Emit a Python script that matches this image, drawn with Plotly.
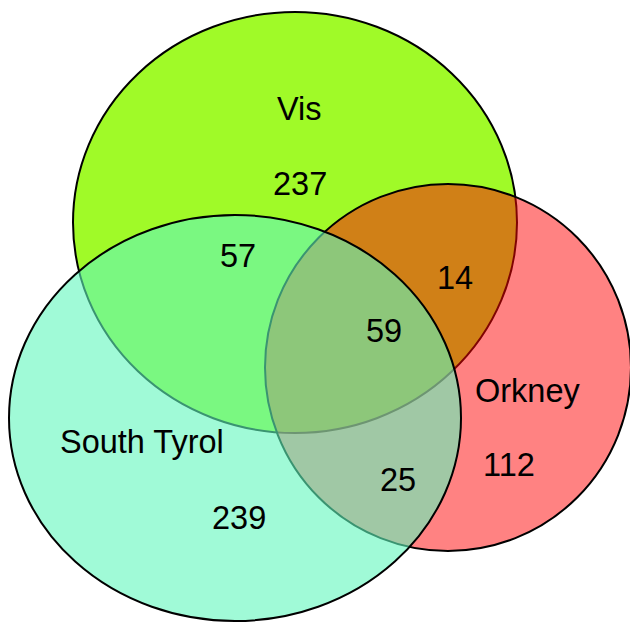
import plotly.graph_objects as go

# ---- data ----
set_names = ["Vis", "Orkney", "South Tyrol"]
region_labels = ["Vis only", "Vis & South Tyrol", "Vis & Orkney", "All three",
                 "Orkney only", "Orkney & South Tyrol", "South Tyrol only"]
region_values = [237, 57, 14, 59, 112, 25, 239]

# ---- layout geometry (pixel space of the 630x622 canvas, y down) ----
ellipses = {
    "Vis": dict(cx=295, cy=222.5, rx=222, ry=210.5, fill="rgb(160,250,40)"),
    "Orkney": dict(cx=448, cy=367.5, rx=183, ry=183.5, fill="rgba(255,5,5,0.5)"),
    "South Tyrol": dict(cx=235, cy=418, rx=226, ry=203, fill="rgba(96,247,188,0.6)"),
}
set_label_pos = {"Vis": (299, 109), "Orkney": (528, 391), "South Tyrol": (142, 442)}
region_pos = [(300, 184), (238, 256), (455, 278), (384, 331), (509, 465), (398, 480), (239, 518)]

fig = go.Figure()
shapes = []
for name in set_names:
    e = ellipses[name]
    shapes.append(dict(
        type="circle", xref="x", yref="y",
        x0=e["cx"] - e["rx"], x1=e["cx"] + e["rx"],
        y0=e["cy"] - e["ry"], y1=e["cy"] + e["ry"],
        fillcolor=e["fill"], line=dict(color="black", width=2), layer="above",
    ))

annotations = []
font = dict(family="Liberation Sans, Arial, sans-serif", size=32.5, color="black")
for name in set_names:
    x, y = set_label_pos[name]
    annotations.append(dict(x=x, y=y, xref="x", yref="y", text=name, showarrow=False,
                            font=font, xanchor="center", yanchor="middle"))
for lab, val, (x, y) in zip(region_labels, region_values, region_pos):
    annotations.append(dict(x=x, y=y, xref="x", yref="y", text=str(val), showarrow=False,
                            font=font, xanchor="center", yanchor="middle"))

fig.update_layout(
    width=630, height=622,
    margin=dict(l=0, r=0, t=0, b=0),
    paper_bgcolor="white", plot_bgcolor="white",
    shapes=shapes, annotations=annotations,
    xaxis=dict(range=[0, 630], visible=False, fixedrange=True),
    yaxis=dict(range=[622, 0], visible=False, fixedrange=True),
    showlegend=False,
)
fig.write_html(
    "out.html",
    config={"displayModeBar": False},
    post_script="document.body.style.margin='0';document.body.style.overflow='hidden';",
)
